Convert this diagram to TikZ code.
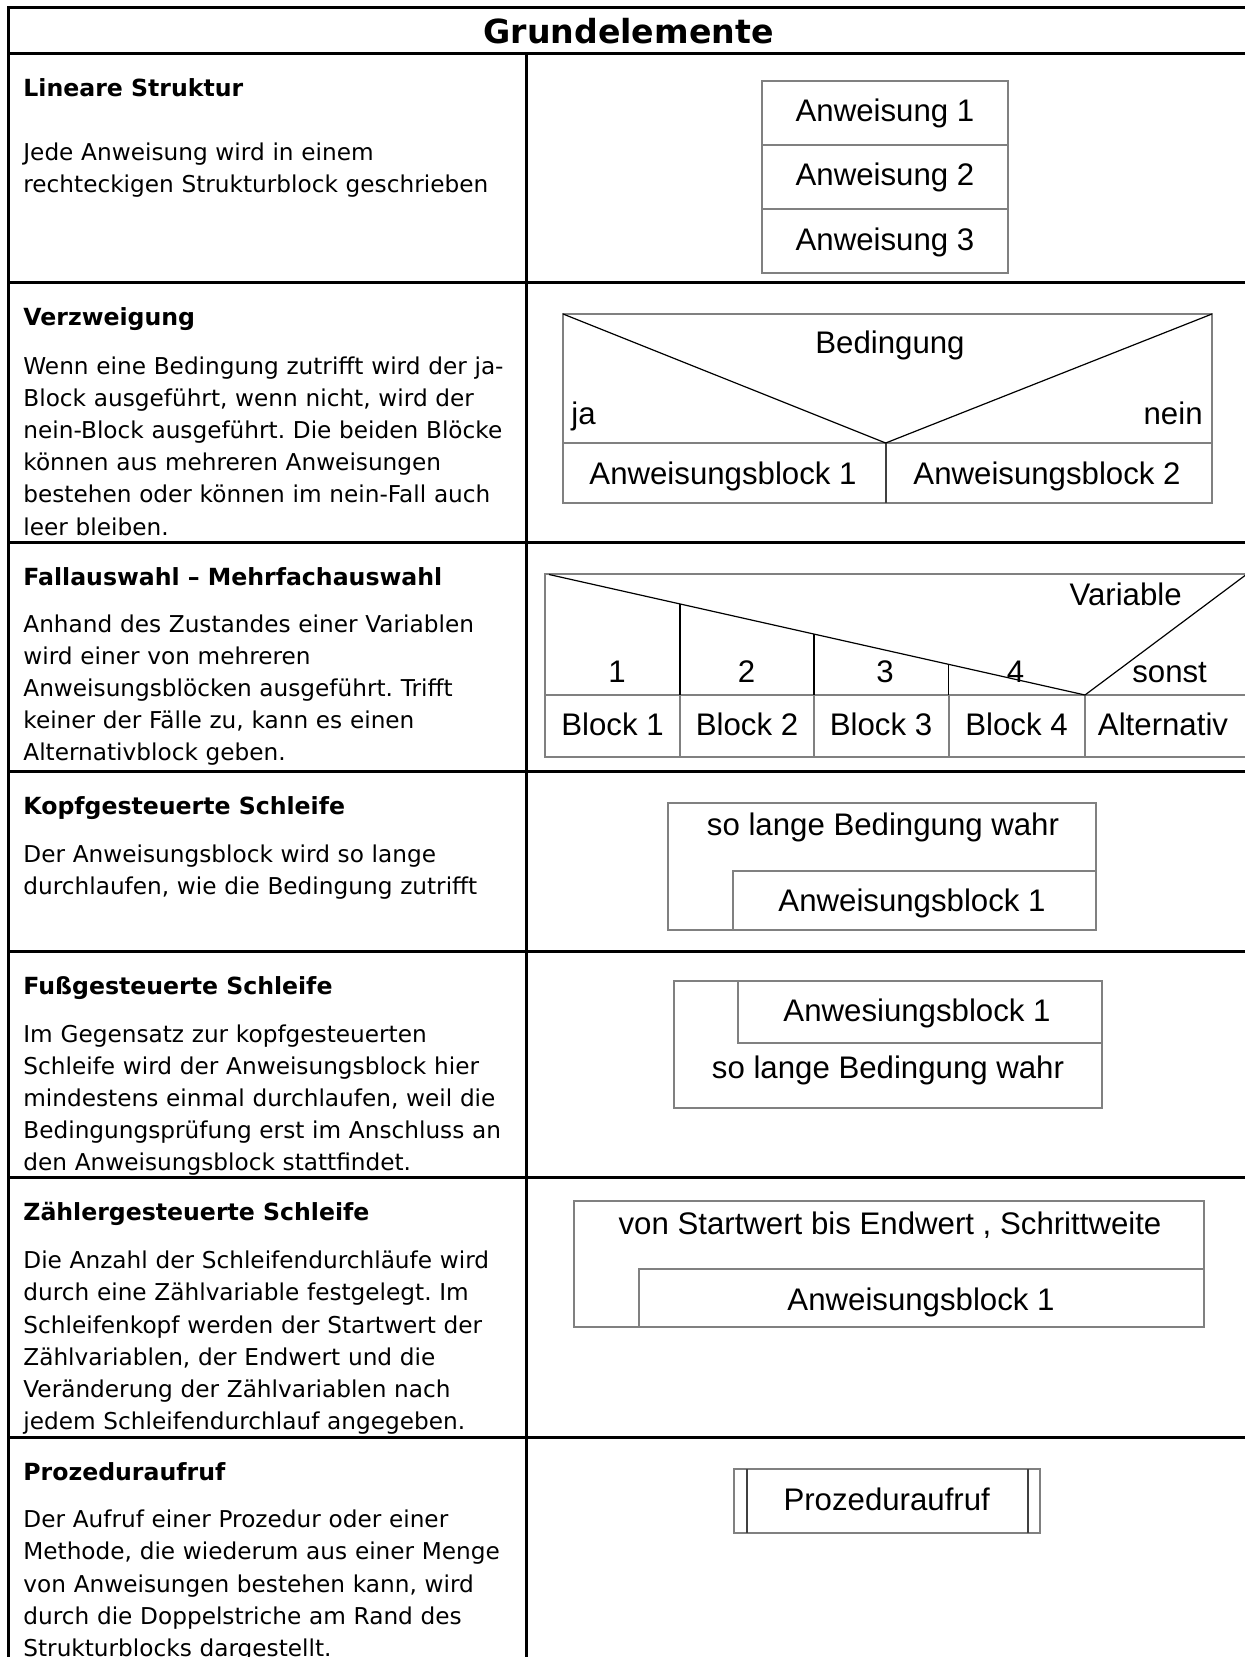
\documentclass[tikz,border=0pt]{standalone}
\usepackage{fontspec}
\setmainfont{DejaVu Sans}
\newfontfamily\nsfont{Liberation Sans}
\frenchspacing

\begin{document}
\begin{tikzpicture}[x=0.5pt, y=-0.5pt]
    \tikzstyle{tabline} = [line width=1.5pt, black]
    \tikzstyle{blockline} = [line width=1pt, black!50]
    \tikzstyle{darkline} = [line width=1pt, black!75]
    \tikzstyle{thinline} = [line width=0.6pt, black]
    \tikzstyle{headtext} = [anchor=base west, inner sep=0pt, font=\bfseries\fontsize{11.8}{14}\selectfont]
    \tikzstyle{bodytext} = [anchor=base west, inner sep=0pt, text width=250pt, align=left, font=\fontsize{11.6}{16.06}\selectfont]
    \tikzstyle{nstext} = [anchor=base, inner sep=0pt, font=\nsfont\fontsize{15.6}{18}\selectfont]
    \useasboundingbox (0,0) rectangle (1245,1657);
    \clip (0,0) rectangle (1245,1657);
    \fill[white] (0,0) rectangle (1245,1657);
	\begin{scope}
		\draw[tabline] (8.5,1700) -- (8.5,7.5) -- (1260,7.5);
		\draw[tabline] (8.5,54) -- (1260,54);
		\draw[tabline] (526,54) -- (526,1700);
		\foreach \y in {283,542,771.5,951.5,1177,1437}
			\draw[tabline] (8.5,\y) -- (1260,\y);
		\node[anchor=base, inner sep=0pt, font=\bfseries\fontsize{16.6}{19}\selectfont] (T) at (628.5,43.6) {Grundelemente};
	\end{scope}
	\begin{scope}
		\node[headtext] (h1) at (23,97) {Lineare Struktur};
		\node[bodytext] (p1) at (23,160.8) {Jede Anweisung wird in einem\\
			rechteckigen Strukturblock geschrieben};
		\draw[blockline] (762,80.7) rectangle (1008,272.7);
		\draw[blockline] (762,145) -- (1008,145) (762,209) -- (1008,209);
		\path
			node[nstext] (a1) at (885,121.7) {Anweisung 1}
			node[nstext] (a2) at (885,186) {Anweisung 2}
			node[nstext] (a3) at (885,250.3) {Anweisung 3};
	\end{scope}
	\begin{scope}
		\node[headtext] (h2) at (23,326) {Verzweigung};
		\node[bodytext] (p2) at (23,374.5) {Wenn eine Bedingung zutrifft wird der ja-\\
			Block ausgeführt, wenn nicht, wird der\\
			nein-Block ausgeführt. Die beiden Blöcke\\
			können aus mehreren Anweisungen\\
			bestehen oder können im nein-Fall auch\\
			leer bleiben.};
		\draw[blockline] (563,314) rectangle (1212,503);
		\draw[blockline] (563,443) -- (1212,443);
		\draw[darkline] (885.7,443) -- (885.7,503);
		\draw[thinline] (563,314) -- (885.7,443) -- (1212,314);
		\path
			node[nstext] (cond) at (890,353.7) {Bedingung}
			node[nstext, anchor=base west] (yes) at (571,425) {ja}
			node[nstext, anchor=base east] (no) at (1203,425) {nein}
			node[nstext] (b1) at (723,485) {Anweisungsblock 1}
			node[nstext] (b2) at (1047,485) {Anweisungsblock 2};
	\end{scope}
	\begin{scope}
		\node[headtext] (h3) at (23,585) {Fallauswahl – Mehrfachauswahl};
		\node[bodytext] (p3) at (23,632.2) {Anhand des Zustandes einer Variablen\\
			wird einer von mehreren\\
			Anweisungsblöcken ausgeführt. Trifft\\
			keiner der Fälle zu, kann es einen\\
			Alternativblock geben.};
		\draw[blockline] (1260,574) -- (545.4,574) -- (545.4,757) -- (1260,757);
		\draw[blockline] (545.4,695) -- (1260,695);
		\foreach \x in {680,814,948.6,1085}
			\draw[blockline] (\x,695) -- (\x,757);
		\draw[thinline] (549,574.5) -- (1085,695) -- (1247,574);
		\draw[thinline] (680,603.9) -- (680,695) (814,634.1) -- (814,695) (948.6,664.3) -- (948.6,695);
		\path
			node[nstext] (var) at (1125.6,605.6) {Variable}
			node[nstext] (c1) at (617,682.6) {1}
			node[nstext] (c2) at (746.5,682.6) {2}
			node[nstext] (c3) at (885,682.6) {3}
			node[nstext] (c4) at (1015.6,682.6) {4}
			node[nstext] (else) at (1169.6,682.6) {sonst}
			node[nstext] (k1) at (612.5,735) {Block 1}
			node[nstext] (k2) at (747,735) {Block 2}
			node[nstext] (k3) at (881,735) {Block 3}
			node[nstext] (k4) at (1016.5,735) {Block 4}
			node[nstext] (alt) at (1163,735) {Alternativ};
	\end{scope}
	\begin{scope}
		\node[headtext] (h4) at (23,814.5) {Kopfgesteuerte Schleife};
		\node[bodytext] (p4) at (23,862.8) {Der Anweisungsblock wird so lange\\
			durchlaufen, wie die Bedingung zutrifft};
		\draw[blockline] (668,802.7) rectangle (1096,930);
		\draw[blockline] (733,930) -- (733,870.7) -- (1096,870.7);
		\path
			node[nstext] (w1) at (883,835) {so lange Bedingung wahr}
			node[nstext] (w2) at (912,911.7) {Anweisungsblock 1};
	\end{scope}
	\begin{scope}
		\node[headtext] (h5) at (23,994.5) {Fußgesteuerte Schleife};
		\node[bodytext] (p5) at (23,1042.4) {Im Gegensatz zur kopfgesteuerten\\
			Schleife wird der Anweisungsblock hier\\
			mindestens einmal durchlaufen, weil die\\
			Bedingungsprüfung erst im Anschluss an\\
			den Anweisungsblock stattfindet.};
		\draw[blockline] (673.6,980.7) rectangle (1101.8,1108);
		\draw[blockline] (737.5,980.7) -- (737.5,1043) -- (1101.8,1043);
		\path
			node[nstext] (r1) at (917,1021) {Anwesiungsblock 1}
			node[nstext] (r2) at (888,1078.5) {so lange Bedingung wahr};
	\end{scope}
	\begin{scope}
		\node[headtext] (h6) at (23,1220) {Zählergesteuerte Schleife};
		\node[bodytext] (p6) at (23,1268.8) {Die Anzahl der Schleifendurchläufe wird\\
			durch eine Zählvariable festgelegt. Im\\
			Schleifenkopf werden der Startwert der\\
			Zählvariablen, der Endwert und die\\
			Veränderung der Zählvariablen nach\\
			jedem Schleifendurchlauf angegeben.};
		\draw[blockline] (574,1201) rectangle (1204,1327.3);
		\draw[blockline] (639,1327.3) -- (639,1269.3) -- (1204,1269.3);
		\path
			node[nstext] (z1) at (890,1234) {von Startwert bis Endwert , Schrittweite}
			node[nstext] (z2) at (921,1310) {Anweisungsblock 1};
	\end{scope}
	\begin{scope}
		\node[headtext] (h7) at (23,1480) {Prozeduraufruf};
		\node[bodytext] (p7) at (23,1527.8) {Der Aufruf einer Prozedur oder einer\\
			Methode, die wiederum aus einer Menge\\
			von Anweisungen bestehen kann, wird\\
			durch die Doppelstriche am Rand des\\
			Strukturblocks dargestellt.};
		\draw[blockline] (734,1469) rectangle (1040,1532.7);
		\draw[darkline] (747.3,1469) -- (747.3,1532.7) (1027.7,1469) -- (1027.7,1532.7);
		\node[nstext] (call) at (886.7,1510) {Prozeduraufruf};
	\end{scope}
\end{tikzpicture}
\end{document}
